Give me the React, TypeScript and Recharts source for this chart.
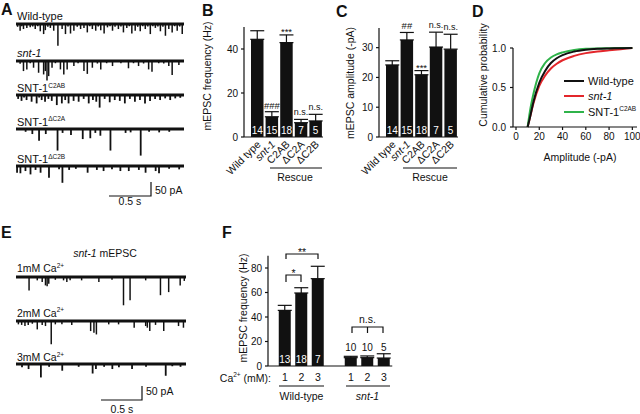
import {
  BarChart, Bar, XAxis, YAxis, ErrorBar, LabelList, ReferenceDot, ReferenceLine,
  LineChart, Line, Legend,
} from 'recharts'

const FONT = '"Liberation Sans", Arial, Helvetica, sans-serif'
const INK = '#111'
const RED = '#e3262b'
const GREEN = '#2fb34a'
const PA_PX = 14 / 50 // scale bar: 50 pA = 14 px

// ---- A: mEPSC events, [time (s), amplitude (-pA)]
const wildTypeEvents = [
  [0.02, 10], [0.05, 24], [0.07, 8], [0.09, 18], [0.13, 14], [0.17, 12], [0.2, 9], [0.23, 18], [0.26, 8],
  [0.29, 26], [0.33, 36], [0.35, 22], [0.38, 10], [0.41, 14], [0.45, 24], [0.5, 78], [0.55, 18], [0.59, 36],
  [0.62, 9], [0.65, 34], [0.69, 24], [0.73, 10], [0.77, 18], [0.81, 14], [0.85, 30], [0.88, 8], [0.91, 18],
  [0.95, 24], [0.98, 9], [1.01, 22], [1.05, 34], [1.09, 12], [1.12, 8], [1.15, 24], [1.18, 10], [1.22, 18],
  [1.25, 9], [1.28, 30], [1.32, 14], [1.35, 8], [1.38, 34], [1.42, 24], [1.45, 10], [1.48, 26], [1.51, 8],
  [1.54, 18], [1.57, 9], [1.6, 36], [1.63, 8], [1.66, 14], [1.69, 9], [1.72, 26], [1.75, 10], [1.78, 42],
  [1.82, 18], [1.86, 30], [1.89, 8], [1.92, 24], [1.95, 9], [1.98, 36],
]
const sntEvents = [
  [0.05, 10], [0.09, 36], [0.13, 30], [0.17, 8], [0.21, 24], [0.27, 42], [0.33, 48], [0.35, 36], [0.37, 70],
  [0.39, 54], [0.43, 24], [0.47, 8], [0.53, 30], [0.57, 48], [0.61, 30], [0.69, 18], [0.74, 8], [0.81, 36],
  [0.85, 46], [0.91, 24], [0.97, 9], [1.01, 30], [1.08, 8], [1.15, 18], [1.25, 8], [1.34, 26], [1.4, 8],
  [1.46, 18], [1.52, 9], [1.58, 30], [1.62, 38], [1.7, 8], [1.76, 9], [1.82, 18], [1.86, 50], [1.94, 14],
]
const c2abEvents = [
  [0.03, 14], [0.07, 21], [0.1, 9], [0.13, 18], [0.19, 24], [0.25, 30], [0.28, 9], [0.31, 18], [0.35, 24],
  [0.39, 14], [0.43, 21], [0.49, 36], [0.55, 30], [0.59, 18], [0.63, 30], [0.69, 21], [0.75, 24], [0.81, 14],
  [0.87, 30], [0.92, 18], [0.96, 24], [1.0, 45], [1.06, 14], [1.12, 26], [1.18, 18], [1.24, 21], [1.3, 30],
  [1.36, 14], [1.42, 24], [1.48, 18], [1.54, 30], [1.6, 21], [1.66, 14], [1.72, 18], [1.78, 12], [1.84, 18],
  [1.9, 12], [1.96, 10],
]
const dC2AEvents = [
  [0.11, 10], [0.19, 18], [0.27, 42], [0.35, 18], [0.49, 77], [0.55, 14], [0.65, 21], [0.79, 36], [0.88, 33],
  [0.94, 14], [1.0, 24], [1.12, 77], [1.3, 14], [1.36, 12], [1.48, 95], [1.58, 10], [1.7, 12], [1.82, 10],
]
const dC2BEvents = [
  [0.01, 24], [0.05, 26], [0.11, 18], [0.17, 30], [0.23, 14], [0.29, 24], [0.39, 42], [0.51, 12], [0.55, 60],
  [0.63, 14], [0.71, 10], [0.85, 24], [0.96, 14], [1.04, 18], [1.14, 12], [1.24, 18], [1.34, 18], [1.46, 14],
  [1.54, 24], [1.66, 18], [1.7, 26], [1.82, 10], [1.94, 12],
]

// ---- E: snt-1 mEPSCs at three Ca2+ levels
const ca1Events = [
  [0.16, 48], [0.26, 12], [0.32, 18], [0.36, 30], [0.38, 33], [0.4, 24], [0.48, 10], [0.58, 12], [0.62, 18],
  [0.66, 12], [0.8, 12], [1.01, 18], [1.17, 10], [1.31, 101], [1.39, 83], [1.58, 12], [1.76, 65], [1.86, 54],
  [2.0, 30], [2.05, 14],
]
const ca2Events = [
  [0.03, 12], [0.07, 14], [0.11, 18], [0.15, 14], [0.2, 10], [0.26, 30], [0.32, 14], [0.36, 18], [0.43, 83],
  [0.48, 12], [0.56, 12], [0.68, 14], [0.91, 36], [0.95, 42], [0.98, 48], [1.13, 12], [1.25, 12], [1.44, 24],
  [1.58, 18], [1.6, 24], [1.63, 36], [1.7, 14], [1.8, 36], [1.98, 18], [2.04, 24],
]
const ca3Events = [
  [0.07, 12], [0.15, 18], [0.3, 48], [0.4, 10], [0.56, 24], [0.76, 10], [0.93, 34], [0.97, 18], [1.07, 10],
  [1.17, 18], [1.25, 12], [1.41, 18], [1.58, 10], [1.82, 42], [1.9, 8], [2.0, 10],
]

// ---- B / C: rescue constructs
const rescueGroups = ['Wild type', 'snt-1', 'C2AB', 'ΔC2A', 'ΔC2B']
const freqMean = [44.4, 9.2, 42.9, 6.5, 7.3]
const freqSem = [3.9, 2.3, 3.5, 1.5, 3.0]
const ampMean = [24.2, 32.6, 20.9, 30.2, 29.5]
const ampSem = [1.4, 2.5, 1.4, 5.0, 5.0]
const cellCounts = [14, 15, 18, 7, 5]
const freqMarks = ['', '###', '***', 'n.s.', 'n.s.']
const ampMarks = ['', '##', '***', 'n.s.', 'n.s.']

// ---- D: cumulative amplitude distributions
const cdfAmp = [10, 12, 15, 20, 25, 30, 35, 40, 50, 60, 70, 80, 90, 100]
const cdfWT = [0, 0.12, 0.32, 0.56, 0.71, 0.81, 0.87, 0.91, 0.955, 0.978, 0.99, 0.995, 0.998, 1]
const cdfSnt = [0, 0.12, 0.3, 0.52, 0.65, 0.74, 0.8, 0.845, 0.9, 0.935, 0.955, 0.97, 0.985, 1]
const cdfC2AB = [0, 0.2, 0.42, 0.68, 0.81, 0.88, 0.92, 0.945, 0.975, 0.99, 0.995, 0.997, 0.999, 1]

// ---- F: frequency vs Ca2+
const caLevels = ['1', '2', '3']
const wtCaMean = [45.4, 59.6, 71.3]
const wtCaSem = [4.1, 4.3, 10.1]
const wtCaN = [13, 18, 7]
const sntCaMean = [6.8, 6.8, 6.5]
const sntCaSem = [1.1, 1.4, 3.5]
const sntCaN = [10, 10, 5]

const freqData = rescueGroups.map((g, i) => ({ g, mean: freqMean[i], err: [0, freqSem[i]], n: cellCounts[i] }))
const ampData = rescueGroups.map((g, i) => ({ g, mean: ampMean[i], err: [0, ampSem[i]], n: cellCounts[i] }))
const cdfData = cdfAmp.map((a, i) => ({ a, wt: cdfWT[i], snt: cdfSnt[i], c2ab: cdfC2AB[i] }))
const caData = [
  ...caLevels.map((c, i) => ({ key: `wt${c}`, ca: c, mean: wtCaMean[i], err: [0, wtCaSem[i]], n: wtCaN[i] })),
  { key: 'gap', ca: '', mean: 0, err: [0, 0], n: null },
  ...caLevels.map((c, i) => ({ key: `snt${c}`, ca: c, mean: sntCaMean[i], err: [0, sntCaSem[i]], n: sntCaN[i] })),
]

const axisStyle = { stroke: INK, strokeWidth: 1.2 }
const tickStyle = { fontSize: 10, fill: INK, fontFamily: FONT }

function Title({ px, py, text, vertical }: any) {
  return (
    <text x={px} y={py} transform={vertical ? `rotate(-90 ${px} ${py})` : undefined}
      textAnchor="middle" fontSize={10.5} fill={INK} fontFamily={FONT}>{text}</text>
  )
}

function SlantTick({ x, y, payload }: any) {
  const ax = x + 4
  const ay = y + 8
  return (
    <text x={ax} y={ay} transform={`rotate(-45 ${ax} ${ay})`} textAnchor="end" fontSize={10.5}
      fontStyle={payload.value === 'snt-1' ? 'italic' : 'normal'} fill={INK} fontFamily={FONT}>
      {payload.value}
    </text>
  )
}

// cell count: white inside the bar, or black above it when the bar is too short
function Count(props: any) {
  const { x, y, width, height } = props.viewBox ?? props
  if (props.value == null) return null
  const low = height < 12
  return (
    <text x={x + width / 2} y={low ? y + height - 15 : y + height - 3} textAnchor="middle"
      fontSize={10} fill={low ? INK : '#fff'} fontFamily={FONT}>{props.value}</text>
  )
}

const markOffset = (m: string) => (m.includes('*') ? 0 : m.includes('#') ? 3 : 4)
const markSize = (m: string) => (m === 'n.s.' ? 9 : 9.5)

function Trace({ events, base, left, width, tmax }: any) {
  const above = 4
  const height = 46
  const data = events.map(([t, a]: number[]) => ({ t, v: -a }))
  return (
    <div style={{ position: 'absolute', left, top: base - above }}>
      <BarChart width={width} height={height} data={data} margin={{ top: 0, right: 0, bottom: 0, left: 0 }}>
        <XAxis type="number" dataKey="t" domain={[0, tmax]} hide />
        <YAxis type="number" domain={[-(height - above) / PA_PX, above / PA_PX]} hide />
        <Bar dataKey="v" fill={INK} barSize={1.8} isAnimationActive={false} />
        <ReferenceLine y={0} stroke={INK} strokeWidth={2.8} />
      </BarChart>
    </div>
  )
}

function RescueChart({ data, means, sems, marks, left, axisW, top, domain, ticks, title, titleX, titleY }: any) {
  return (
    <div style={{ position: 'absolute', left, top: 0 }}>
      <BarChart width={axisW + 79 + 12} height={200} data={data}
        margin={{ top, right: 12, bottom: 3, left: 0 }}>
        <XAxis dataKey="g" height={60} interval={0} tickLine={false} tickSize={0} tickMargin={0}
          tick={<SlantTick />} padding={{ left: 6, right: 0 }} axisLine={axisStyle} />
        <YAxis width={axisW} domain={domain} ticks={ticks} tickSize={3} tickMargin={3}
          axisLine={axisStyle} tickLine={axisStyle} tick={tickStyle}
          label={<Title px={titleX} py={titleY} text={title} vertical />} />
        <Bar dataKey="mean" fill={INK} barSize={12.5} isAnimationActive={false}>
          <ErrorBar dataKey="err" width={7} stroke={INK} strokeWidth={1.2} direction="y" />
          <LabelList dataKey="n" content={<Count />} />
        </Bar>
        {marks.map((m: string, i: number) => m && (
          <ReferenceDot key={i} x={rescueGroups[i]} y={means[i] + sems[i]} r={0} ifOverflow="visible"
            label={{ value: m, position: 'top', offset: markOffset(m), fontSize: markSize(m), fill: INK, fontFamily: FONT }} />
        ))}
      </BarChart>
    </div>
  )
}

const legendRows = [
  { name: 'Wild-type', color: INK },
  { name: 'snt-1', color: RED, italic: true },
  { name: 'SNT-1', sup: 'C2AB', color: GREEN },
]

function CdfLegend() {
  return (
    <div style={{ fontFamily: FONT, fontSize: 11, color: INK }}>
      {legendRows.map(r => (
        <div key={r.name} style={{ display: 'flex', alignItems: 'center', height: 15.5 }}>
          <span style={{ width: 20, height: 2, background: r.color, marginRight: 4 }} />
          <span style={{ fontStyle: r.italic ? 'italic' : 'normal' }}>
            {r.name}{r.sup && <sup style={{ fontSize: 6.5 }}>{r.sup}</sup>}
          </span>
        </div>
      ))}
    </div>
  )
}

function Overlay() {
  const sup = (s: string) => <tspan fontSize={6.5} dy={-4.5}>{s}</tspan>
  return (
    <svg width={640} height={414} style={{ position: 'absolute', left: 0, top: 0, pointerEvents: 'none' }}
      fontFamily={FONT} fill={INK}>
      <g fontWeight="bold" fontSize={16}>
        <text x={1} y={15}>A</text>
        <text x={202} y={16}>B</text>
        <text x={336} y={17}>C</text>
        <text x={472} y={17}>D</text>
        <text x={1} y={238}>E</text>
        <text x={222} y={238}>F</text>
      </g>
      <g fontSize={11}>
        <text x={17} y={20}>Wild-type</text>
        <text x={17} y={57} fontStyle="italic">snt-1</text>
        <text x={17} y={92}>SNT-1{sup('C2AB')}</text>
        <text x={17} y={125.5}>SNT-1{sup('ΔC2A')}</text>
        <text x={17} y={163}>SNT-1{sup('ΔC2B')}</text>
      </g>
      <g fontSize={10.5}>
        <text x={105} y={257} textAnchor="middle"><tspan fontStyle="italic">snt-1</tspan> mEPSC</text>
        <text x={17} y={272}>1mM Ca{sup('2+')}</text>
        <text x={17} y={316.5}>2mM Ca{sup('2+')}</text>
        <text x={17} y={361}>3mM Ca{sup('2+')}</text>
      </g>
      <g stroke={INK} strokeWidth={1.2} fill="none">
        <path d="M109 196 H151 V182" />
        <path d="M101 400 H142 V386" />
        <path d="M270 168 H322" />
        <path d="M403 168 H457" />
        <path d="M286 282 V275 H301 V282" />
        <path d="M286 259 V254 H318 V259" />
        <path d="M352 333 V327 H383 V333 M367.5 327 V333" />
        <path d="M279 386 H324 M346 386 H390" />
      </g>
      <g fontSize={10.5}>
        <text x={155} y={194}>50 pA</text>
        <text x={130} y={205} textAnchor="middle">0.5 s</text>
        <text x={146} y={395}>50 pA</text>
        <text x={122} y={413} textAnchor="middle">0.5 s</text>
        <text x={295} y={181} textAnchor="middle">Rescue</text>
        <text x={430} y={181} textAnchor="middle">Rescue</text>
        <text x={293.5} y={277} textAnchor="middle">*</text>
        <text x={302} y={256} textAnchor="middle">**</text>
        <text x={367.5} y={323} textAnchor="middle">n.s.</text>
        <text x={271} y={381.5} textAnchor="end">Ca{sup('2+')}<tspan dy={4.5}> (mM):</tspan></text>
        <text x={301.5} y={400} textAnchor="middle">Wild-type</text>
        <text x={367.5} y={400} textAnchor="middle" fontStyle="italic">snt-1</text>
      </g>
    </svg>
  )
}

export default function App() {
  return (
    <div style={{ position: 'absolute', left: 0, top: 0, width: 640, height: 414, background: '#fff', fontFamily: FONT }}>
      <Trace events={wildTypeEvents} base={24} left={16} width={168} tmax={2} />
      <Trace events={sntEvents} base={60.5} left={16} width={168} tmax={2} />
      <Trace events={c2abEvents} base={95} left={16} width={168} tmax={2} />
      <Trace events={dC2AEvents} base={128.5} left={16} width={168} tmax={2} />
      <Trace events={dC2BEvents} base={166} left={16} width={168} tmax={2} />

      <Trace events={ca1Events} base={276.5} left={16} width={170} tmax={2.07} />
      <Trace events={ca2Events} base={320.5} left={16} width={170} tmax={2.07} />
      <Trace events={ca3Events} base={364} left={16} width={170} tmax={2.07} />

      <RescueChart data={freqData} means={freqMean} sems={freqSem} marks={freqMarks} left={200} axisW={44}
        top={27} domain={[0, 50]} ticks={[0, 20, 40]} title="mEPSC frequency (Hz)" titleX={11} titleY={76} />
      <RescueChart data={ampData} means={ampMean} sems={ampSem} marks={ampMarks} left={340} axisW={39}
        top={28} domain={[0, 36.6]} ticks={[0, 10, 20, 30]} title="mEPSC amplitude (-pA)" titleX={14} titleY={83} />

      <div style={{ position: 'absolute', left: 460, top: 0 }}>
        <LineChart width={180} height={180} data={cdfData} margin={{ top: 48, right: 3, bottom: 23, left: 0 }}>
          <XAxis type="number" dataKey="a" domain={[0, 104]} ticks={[0, 20, 40, 60, 80, 100]} padding={{ left: 3, right: 0 }}
            height={30} tickSize={3} tickMargin={3} axisLine={axisStyle} tickLine={axisStyle} tick={tickStyle}
            label={<Title px={120} py={161} text="Amplitude (-pA)" />} />
          <YAxis type="number" width={53} domain={[0, 1]} ticks={[0, 0.5, 1]} tickFormatter={(v: number) => v.toFixed(1)}
            tickSize={3} tickMargin={4} axisLine={axisStyle} tickLine={axisStyle} tick={tickStyle}
            label={<Title px={27} py={75} text="Cumulative probability" vertical />} />
          <Line dataKey="snt" type="monotone" stroke={RED} strokeWidth={2} dot={false} isAnimationActive={false} />
          <Line dataKey="c2ab" type="monotone" stroke={GREEN} strokeWidth={2} dot={false} isAnimationActive={false} />
          <Line dataKey="wt" type="monotone" stroke={INK} strokeWidth={2} dot={false} isAnimationActive={false} />
          <Legend content={<CdfLegend />} layout="vertical" align="center" verticalAlign="middle"
            wrapperStyle={{ left: 104, top: 73, width: 80 }} />
        </LineChart>
      </div>

      <div style={{ position: 'absolute', left: 200, top: 220 }}>
        <BarChart width={200} height={194} data={caData} margin={{ top: 35.75, right: 7.75, bottom: 18, left: 0 }}>
          <XAxis dataKey="key" height={30} interval={0} tickLine={false} padding={{ left: 8.75, right: 0 }}
            tickFormatter={(k: string) => caData.find(d => d.key === k)?.ca ?? ''}
            axisLine={axisStyle} tick={{ ...tickStyle, fontSize: 10.5 }} />
          <YAxis width={68} domain={[0, 90]} ticks={[0, 20, 40, 60, 80]} tickSize={3} tickMargin={3}
            axisLine={axisStyle} tickLine={axisStyle} tick={tickStyle}
            label={<Title px={47} py={88} text="mEPSC frequency (Hz)" vertical />} />
          <Bar dataKey="mean" fill={INK} barSize={12} isAnimationActive={false}>
            <ErrorBar dataKey="err" width={7} stroke={INK} strokeWidth={1.2} direction="y" />
            <LabelList dataKey="n" content={<Count />} />
          </Bar>
        </BarChart>
      </div>

      <Overlay />
    </div>
  )
}
